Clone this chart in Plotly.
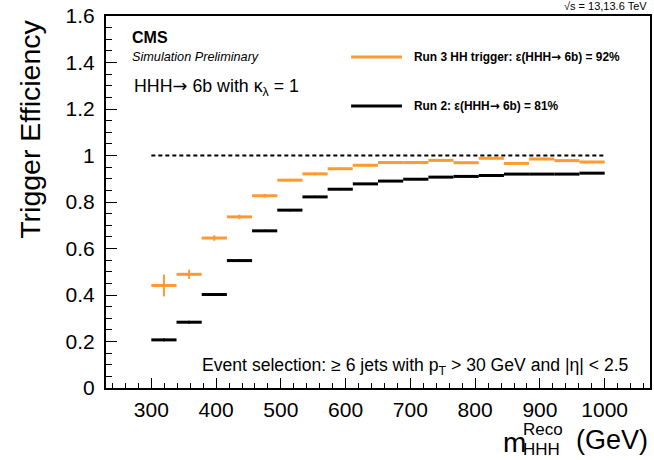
import numpy as np
import plotly.graph_objects as go

# Binning in reconstructed m_HHH (GeV)
M_LO, M_HI, N_BINS = 300.0, 1000.0, 18
edges = np.linspace(M_LO, M_HI, N_BINS + 1)
centers = 0.5 * (edges[:-1] + edges[1:])
half_width = 0.5 * (edges[1:] - edges[:-1])

# Trigger efficiency per bin
eff_run3 = [0.441, 0.489, 0.645, 0.736, 0.827, 0.894, 0.921, 0.943, 0.958,
            0.970, 0.970, 0.979, 0.969, 0.988, 0.966, 0.985, 0.978, 0.972]
err_run3 = [0.047, 0.020, 0.012, 0.010, 0.008, 0.006, 0.006, 0.005, 0.005,
            0.005, 0.005, 0.005, 0.005, 0.005, 0.005, 0.005, 0.005, 0.005]
eff_run2 = [0.207, 0.283, 0.402, 0.548, 0.676, 0.765, 0.822, 0.855, 0.878,
            0.890, 0.898, 0.907, 0.910, 0.914, 0.920, 0.920, 0.920, 0.924]
err_run2 = [0.006, 0.006, 0.006, 0.006, 0.005, 0.005, 0.005, 0.004, 0.004,
            0.004, 0.004, 0.004, 0.004, 0.004, 0.004, 0.004, 0.004, 0.004]

# Reference line at full efficiency
ref_x = [300, 1000]
ref_y = [1.0, 1.0]

ORANGE = "#ff9a33"
BLACK = "#000000"
FONT = "Liberation Sans, Arial, Helvetica, sans-serif"
ARROW = '<span style="font-family:DejaVu Sans">\u2192</span>'

W, H = 654, 460
L, R, T, B = 106, 652, 16, 388  # plot frame in pixels


def px(x):
    return (x - L) / (R - L)


def py(y):
    return (B - y) / (B - T)


fig = go.Figure()

fig.add_trace(go.Scatter(
    x=ref_x, y=ref_y, mode="lines",
    line=dict(color=BLACK, width=2, dash="4px,3px"),
    showlegend=False, hoverinfo="skip"))


def eff_trace(y, err, color, name):
    return go.Scatter(
        x=centers, y=y, mode="markers", name=name,
        marker=dict(size=1, color=color, opacity=0),
        error_x=dict(type="data", array=half_width, visible=True,
                     color=color, thickness=3, width=0),
        error_y=dict(type="data", array=err, visible=True,
                     color=color, thickness=2, width=0),
        showlegend=False)


fig.add_trace(eff_trace(eff_run2, err_run2, BLACK, "Run 2"))
fig.add_trace(eff_trace(eff_run3, err_run3, ORANGE, "Run 3 HH trigger"))

axis_common = dict(
    showline=True, linecolor=BLACK, linewidth=2, mirror=True,
    ticks="inside", tickcolor=BLACK, tickwidth=1.2,
    showgrid=False, zeroline=False,
    tickfont=dict(family=FONT, size=21, color=BLACK),
)

fig.update_xaxes(range=[230, 1070], tick0=0, dtick=100, ticklen=10,
                 ticklabelstandoff=2,
                 minor=dict(ticks="inside", dtick=20, ticklen=5,
                            tickcolor=BLACK, tickwidth=1),
                 **axis_common)
fig.update_yaxes(range=[0, 1.6], tick0=0, dtick=0.2, ticklen=11,
                 ticklabelstandoff=5,
                 minor=dict(ticks="inside", dtick=0.05, ticklen=6,
                            tickcolor=BLACK, tickwidth=1),
                 **axis_common)

ann = []


def text(x, y, s, size, xanchor="left", yanchor="middle", angle=0):
    ann.append(dict(x=px(x), y=py(y), xref="paper", yref="paper", text=s,
                    showarrow=False, xanchor=xanchor, yanchor=yanchor,
                    textangle=angle,
                    font=dict(family=FONT, size=size, color=BLACK)))


text(130, 38, "<b>CMS</b>", 16)
text(130, 57, "<i>Simulation Preliminary</i>", 12.7)
text(132, 87, "HHH" + ARROW + " 6b with \u03ba<sub>\u03bb</sub> = 1", 17.8)
text(413, 57, "<b>Run 3 HH trigger: \u03b5(HHH" + ARROW + " 6b) = 92%</b>",
     11.9)
text(413, 106, "<b>Run 2: \u03b5(HHH" + ARROW + " 6b) = 81%</b>", 11.9)
text(633, 366, "Event selection: \u2265 6 jets with p<sub>T</sub> > 30 GeV "
     "and |\u03b7| < 2.5", 17.6, xanchor="right")
text(651, 6, "\u221as = 13,13.6 TeV", 11, xanchor="right")

# Axis titles
text(29, 18, "Trigger Efficiency", 28.5, xanchor="center", yanchor="top",
     angle=-90)
text(502, 442, "m", 28)
text(523, 430, "Reco", 17)
text(523, 449, "HHH", 17)
text(652, 440, "(GeV)", 27, xanchor="right")

fig.update_layout(annotations=ann)

# Legend line samples
for yy, col in [(57, ORANGE), (106, BLACK)]:
    fig.add_shape(type="line", xref="paper", yref="paper",
                  x0=px(352), x1=px(403), y0=py(yy), y1=py(yy),
                  line=dict(color=col, width=3))

fig.update_layout(
    width=W, height=H,
    margin=dict(l=L, r=W - R, t=T, b=H - B),
    paper_bgcolor="white", plot_bgcolor="white",
    font=dict(family=FONT, color=BLACK),
    showlegend=False,
)

fig.write_html("out.html")
